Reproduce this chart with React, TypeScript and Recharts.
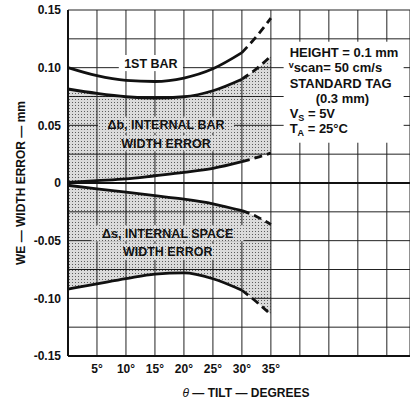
import {
  Area,
  CartesianGrid,
  ComposedChart,
  Label,
  Line,
  ReferenceDot,
  ReferenceLine,
  XAxis,
  YAxis,
} from 'recharts'

const FONT = '"Liberation Sans", Arial, Helvetica, sans-serif'
const INK = '#111'

/* tilt (deg) and width error (mm) */
const tilt = [0, 5, 10, 15, 20, 25, 30, 32.5, 35]
const firstBar = [0.1, 0.093, 0.089, 0.088, 0.091, 0.099, 0.113, 0.127, 0.143]
const barTop = [0.0815, 0.0777, 0.0748, 0.0737, 0.0748, 0.08, 0.09, 0.099, 0.11]
const barBottom = [0.0005, 0.002, 0.0035, 0.0063, 0.0092, 0.0127, 0.0185, 0.022, 0.026]
const spaceTop = [-0.002, -0.005, -0.008, -0.011, -0.014, -0.018, -0.024, -0.029, -0.036]
const spaceBottom = [-0.092, -0.0875, -0.083, -0.079, -0.078, -0.083, -0.093, -0.103, -0.114]
const solidUntil = 30 // beyond this the curves are drawn dashed

const xTicks = [0, 5, 10, 15, 20, 25, 30, 35, 40, 45, 50, 55]
const xLabels: Record<number, string> = {
  5: '5°', 10: '10°', 15: '15°', 20: '20°', 25: '25°', 30: '30°', 35: '35°',
}
const yTicks = [-0.15, -0.125, -0.1, -0.075, -0.05, -0.025, 0, 0.025, 0.05, 0.075, 0.1, 0.125, 0.15]
const yLabels: Record<string, string> = {
  '0.15': '0.15', '0.1': '0.10', '0.05': '0.05', '0': '0',
  '-0.05': '-0.05', '-0.1': '-0.10', '-0.15': '-0.15',
}

const curves = [
  { key: 'firstBar', values: firstBar },
  { key: 'barTop', values: barTop },
  { key: 'barBottom', values: barBottom },
  { key: 'spaceTop', values: spaceTop },
  { key: 'spaceBottom', values: spaceBottom },
]

const rows = tilt.map((t, i) => {
  const row: Record<string, any> = {
    t,
    barBand: [barBottom[i], barTop[i]],
    spaceBand: [spaceBottom[i], spaceTop[i]],
  }
  curves.forEach((c) => {
    row[c.key + 'Solid'] = t <= solidUntil ? c.values[i] : null
    row[c.key + 'Dash'] = t >= solidUntil ? c.values[i] : null
  })
  return row
})

const notes = [
  { t: 14.3, we: 0.104, lines: ['1ST BAR'], bg: '#fff' },
  { t: 16.9, we: 0.0425, lines: ['Δb, INTERNAL BAR', 'WIDTH ERROR'], bg: 'url(#stipple)' },
  { t: 17.2, we: -0.0516, lines: ['Δs, INTERNAL SPACE', 'WIDTH ERROR'], bg: 'url(#stipple)' },
]

function Note({ cx, cy, lines, bg }: any) {
  const gap = 18.5
  const y0 = cy - ((lines.length - 1) * gap) / 2
  return (
    <g>
      {lines.map((s: string, i: number) => {
        const w = s.length * 8 + 8
        return (
          <g key={i}>
            <rect x={cx - w / 2} y={y0 + i * gap - 8} width={w} height={16} fill="#fff" />
            <rect x={cx - w / 2} y={y0 + i * gap - 8} width={w} height={16} fill={bg} />
            <text
              x={cx}
              y={y0 + i * gap + 4.5}
              textAnchor="middle"
              fontFamily={FONT}
              fontWeight="bold"
              fontSize={12.5}
              fill={INK}
            >
              {s}
            </text>
          </g>
        )
      })}
    </g>
  )
}

function Conditions({ cx, cy }: any) {
  const x = cx + 6
  const step = 15.2
  const base = cy + 15.5
  const txt = { fontFamily: FONT, fontWeight: 'bold' as const, fontSize: 13, fill: INK }
  return (
    <g>
      <rect x={cx} y={cy} width={120} height={101} fill="#fff" />
      <text x={x} y={base} {...txt}>HEIGHT = 0.1 mm</text>
      <text x={x - 1} y={base + step} {...txt}>
        <tspan fontSize={9} dy={-4}>v</tspan>
        <tspan dy={4}>scan= 50 cm/s</tspan>
      </text>
      <text x={x} y={base + step * 2} {...txt}>STANDARD TAG</text>
      <text x={x + 26} y={base + step * 3} {...txt}>(0.3 mm)</text>
      <text x={x} y={base + step * 4} {...txt}>
        V<tspan fontSize={9} dy={3}>S</tspan>
        <tspan dy={-3}> = 5V</tspan>
      </text>
      <text x={x} y={base + step * 5} {...txt}>
        T<tspan fontSize={9} dy={3}>A</tspan>
        <tspan dy={-3}> = 25°C</tspan>
      </text>
    </g>
  )
}

function XTitle({ viewBox }: any) {
  const { x, y, width, height } = viewBox
  return (
    <text
      x={x + width / 2 + 7}
      y={y + height - 7}
      textAnchor="middle"
      fontFamily={FONT}
      fontWeight="bold"
      fontSize={12}
      fill={INK}
    >
      <tspan fontStyle="italic" fontWeight="normal">θ</tspan> — TILT — DEGREES
    </text>
  )
}

const tickStyle = { fontFamily: FONT, fontWeight: 'bold', fontSize: 12, fill: INK }

export default function App() {
  return (
    <div style={{ position: 'absolute', left: 0, top: 0, background: '#fff' }}>
      <ComposedChart
        width={410}
        height={404}
        data={rows}
        margin={{ top: 10, right: 0, bottom: 0, left: 0 }}
      >
        <defs>
          <pattern id="stipple" width="3" height="3" patternUnits="userSpaceOnUse">
            <rect width="3" height="3" fill="#000" fillOpacity={0.14} />
            <rect width="1" height="1" fill="#333" fillOpacity={0.75} />
          </pattern>
        </defs>
        <CartesianGrid stroke="#222" strokeWidth={1} />
        <XAxis
          type="number"
          dataKey="t"
          domain={[0, 59]}
          ticks={xTicks}
          interval={0}
          tickFormatter={(v) => xLabels[v] ?? ''}
          tick={tickStyle}
          tickSize={0}
          tickMargin={8}
          height={48}
          axisLine={{ stroke: INK, strokeWidth: 2 }}
        >
          <Label content={<XTitle />} />
        </XAxis>
        <YAxis
          type="number"
          domain={[-0.15, 0.15]}
          ticks={yTicks}
          interval={0}
          tickFormatter={(v) => yLabels[String(v)] ?? ''}
          tick={tickStyle}
          tickSize={0}
          tickMargin={7}
          width={68}
          axisLine={{ stroke: INK, strokeWidth: 2 }}
        >
          <Label
            value="WE — WIDTH ERROR — mm"
            angle={-90}
            position="insideLeft"
            offset={21}
            style={{ textAnchor: 'middle', fontFamily: FONT, fontWeight: 'bold', fontSize: 12, fill: INK }}
          />
        </YAxis>
        <Area
          dataKey="barBand"
          type="monotone"
          stroke="none"
          fill="url(#stipple)"
          fillOpacity={1}
          isAnimationActive={false}
        />
        <Area
          dataKey="spaceBand"
          type="monotone"
          stroke="none"
          fill="url(#stipple)"
          fillOpacity={1}
          isAnimationActive={false}
        />
        <ReferenceLine y={0} stroke={INK} strokeWidth={2} />
        {notes.map((n, i) => (
          <ReferenceDot
            key={i}
            x={n.t}
            y={n.we}
            r={0}
            shape={(p: any) => <Note cx={p.cx} cy={p.cy} lines={n.lines} bg={n.bg} />}
          />
        ))}
        <ReferenceDot x={37.2} y={0.1225} r={0} shape={(p: any) => <Conditions cx={p.cx} cy={p.cy} />} />
        {curves.map((c) => (
          <Line
            key={c.key + 'Solid'}
            dataKey={c.key + 'Solid'}
            type="monotone"
            stroke={INK}
            strokeWidth={2.8}
            dot={false}
            activeDot={false}
            isAnimationActive={false}
          />
        ))}
        {curves.map((c) => (
          <Line
            key={c.key + 'Dash'}
            dataKey={c.key + 'Dash'}
            type="monotone"
            stroke={INK}
            strokeWidth={2.8}
            strokeDasharray="8 5"
            dot={false}
            activeDot={false}
            isAnimationActive={false}
          />
        ))}
      </ComposedChart>
    </div>
  )
}
